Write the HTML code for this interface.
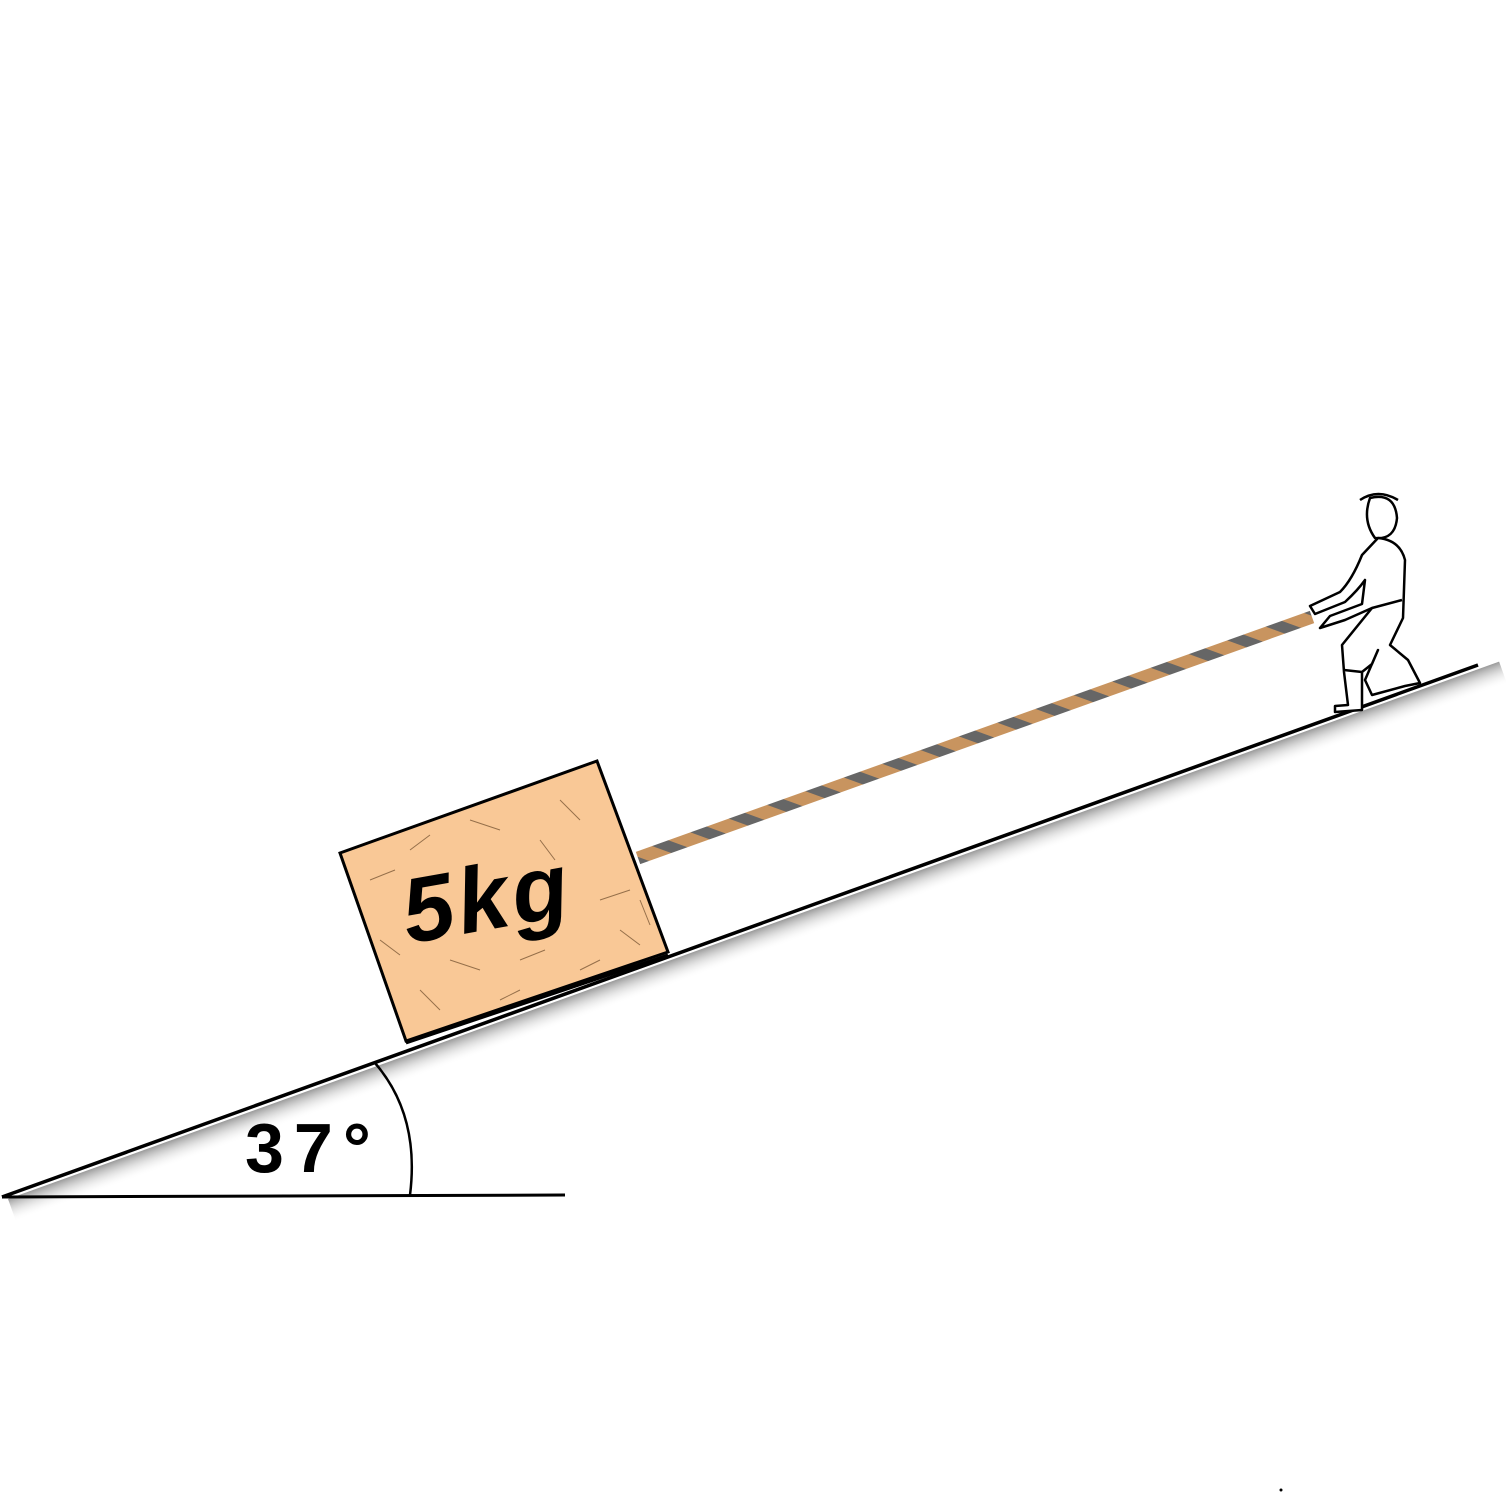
<!DOCTYPE html>
<html><head><meta charset="utf-8">
<style>
html,body{margin:0;padding:0;background:#fff;}
svg{display:block;}
</style></head>
<body>
<svg width="1506" height="1493" viewBox="0 0 1506 1493" xmlns="http://www.w3.org/2000/svg">
<defs>
<linearGradient id="shade" x1="0" y1="0" x2="0" y2="1">
<stop offset="0" stop-color="#888" stop-opacity="0.85"/>
<stop offset="1" stop-color="#fff" stop-opacity="0"/>
</linearGradient>
<pattern id="stripes" patternUnits="userSpaceOnUse" width="26" height="26" patternTransform="rotate(-70)">
<rect width="26" height="26" fill="#c8945f"/>
<rect width="11" height="26" fill="#666"/>
</pattern>
</defs>
<!-- shadow under incline -->
<g transform="translate(8,1199) rotate(-19.82)">
<rect x="0" y="0" width="1585" height="24" fill="url(#shade)"/>
</g>
<!-- incline -->
<line x1="2" y1="1197" x2="1478" y2="665" stroke="#000" stroke-width="3.5"/>
<line x1="2" y1="1197" x2="565" y2="1195" stroke="#000" stroke-width="3"/>
<path d="M375,1063 Q420,1115 410,1195" fill="none" stroke="#000" stroke-width="2.5"/>
<text x="245" y="1172" font-family="Liberation Sans, sans-serif" font-size="70" font-weight="bold" letter-spacing="10" fill="#000">37°</text>
<!-- rope -->
<line x1="638" y1="858" x2="1312" y2="617" stroke="url(#stripes)" stroke-width="13"/>
<!-- box -->
<g>
<polygon points="340,853 597,761 668,952 406,1041" fill="#f9c896" stroke="#000" stroke-width="3"/>
<g stroke="#6b4a2a" stroke-width="1" opacity="0.7">
<line x1="370" y1="880" x2="395" y2="870"/><line x1="560" y1="800" x2="580" y2="820"/>
<line x1="420" y1="990" x2="440" y2="1010"/><line x1="600" y1="900" x2="630" y2="890"/>
<line x1="470" y1="820" x2="500" y2="830"/><line x1="520" y1="960" x2="545" y2="950"/>
<line x1="380" y1="940" x2="400" y2="955"/><line x1="620" y1="930" x2="640" y2="945"/>
<line x1="540" y1="840" x2="555" y2="860"/><line x1="450" y1="960" x2="480" y2="970"/>
<line x1="580" y1="970" x2="600" y2="960"/><line x1="410" y1="850" x2="430" y2="835"/>
<line x1="500" y1="1000" x2="520" y2="990"/><line x1="640" y1="900" x2="650" y2="925"/>
</g>
<line x1="406" y1="1043" x2="668" y2="955" stroke="#000" stroke-width="3"/>
</g>
<text x="402" y="928" transform="rotate(-10 495 900)" font-family="Liberation Sans, sans-serif" font-size="92" font-style="italic" font-weight="bold" letter-spacing="4" fill="#000">5kg</text>
<!-- person -->
<g fill="none" stroke="#000" stroke-width="2.5" stroke-linejoin="round">
<path d="M1370,498 Q1362,520 1375,538 Q1395,540 1397,518 Q1395,492 1370,498 Z" fill="#fff"/>
<path d="M1360,500 Q1378,488 1398,500"/>
<path d="M1378,538 L1362,555 Q1352,580 1340,592 L1310,606 L1315,614 L1345,602 Q1358,590 1365,580 L1362,604 L1330,616 L1320,628 L1345,620 L1372,608 L1342,645 L1344,672 L1348,705 L1335,706 L1335,712 L1362,710 L1362,672 L1372,664 L1378,650 L1365,680 L1372,695 L1405,686 L1420,683 L1408,660 L1390,645 L1403,618 L1405,560 Q1400,540 1378,538 Z" fill="#fff"/>
<path d="M1372,608 L1402,600"/>
<path d="M1344,670 L1362,672"/>
</g>
<circle cx="1281" cy="1490" r="1.5" fill="#000"/>
</svg>
</body></html>
